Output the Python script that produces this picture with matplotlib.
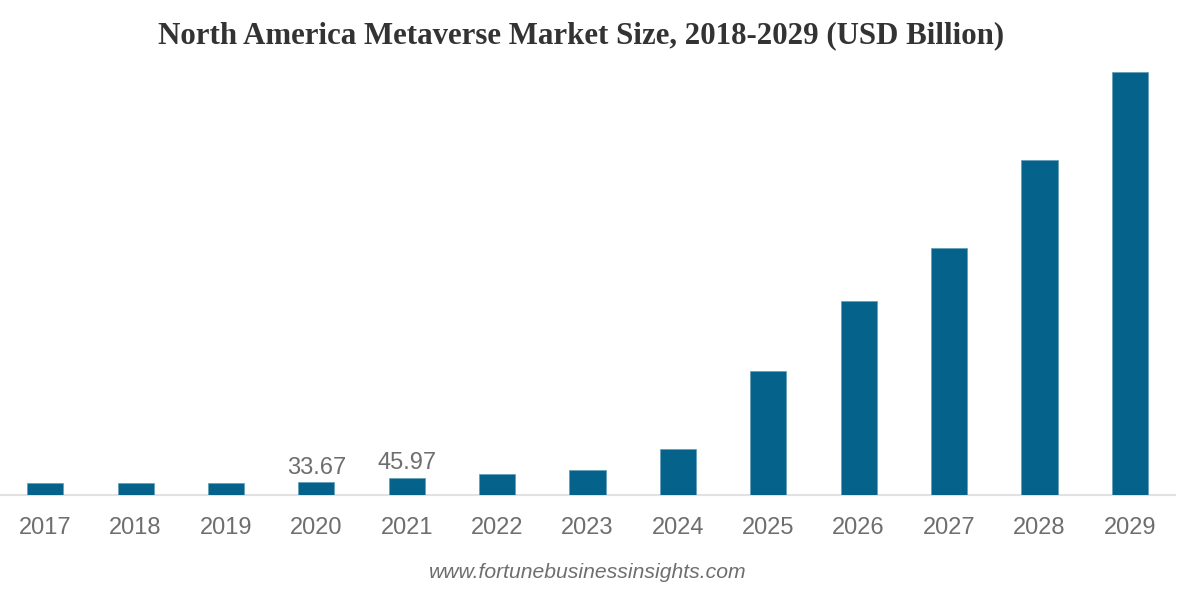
import matplotlib.pyplot as plt

years = ["2017", "2018", "2019", "2020", "2021", "2022", "2023",
         "2024", "2025", "2026", "2027", "2028", "2029"]
market_size = [30.5, 31.5, 32.3, 33.67, 45.97, 56.0, 67.0,
               124.5, 338.0, 530.0, 675.0, 915.0, 1156.0]
labelled_years = ["2020", "2021"]

W, H = 1177, 605
BASE_Y = 494.5  # baseline, px from top

fig = plt.figure(figsize=(W / 100, H / 100), dpi=100)
ax = fig.add_axes([0, (H - BASE_Y) / H, 1175 / W, (BASE_Y - 60) / H])

positions = list(range(len(years)))
bars = ax.bar(positions, market_size, width=0.4, color="#05628a",
              edgecolor="#5f9cb5", linewidth=0.5, zorder=3)

ax.set_xlim(-0.5, len(years) - 0.5)
ax.set_ylim(0, 1189)
ax.set_yticks([])
ax.set_xticks(positions)
ax.set_xticklabels(years, fontfamily="Liberation Sans", fontsize=17, color="#6e6e6e")
ax.tick_params(axis="x", length=0, pad=16.5)

for side in ["top", "left", "right"]:
    ax.spines[side].set_visible(False)
ax.spines["bottom"].set_color("#e2e2e2")
ax.spines["bottom"].set_linewidth(1.5)

for bar, year, value in zip(bars, years, market_size):
    if year in labelled_years:
        ax.annotate(f"{value:.2f}", (bar.get_x() + bar.get_width() / 2, value),
                    xytext=(0, 2.5), textcoords="offset points", ha="center", va="bottom",
                    fontfamily="Liberation Sans", fontsize=17, color="#6e6e6e")

fig.text(581 / W, 1 - 36 / H, "North America Metaverse Market Size, 2018-2029 (USD Billion)",
         ha="center", va="center", fontfamily="Liberation Serif", fontweight="bold",
         fontsize=22.2, color="#333333")
fig.text(588 / W, 1 - 573 / H, "www.fortunebusinessinsights.com", ha="center", va="center",
         fontfamily="Liberation Sans", fontstyle="italic", fontsize=15.2, color="#6e6e6e")

fig.savefig("out.png", dpi=100, facecolor="white")
